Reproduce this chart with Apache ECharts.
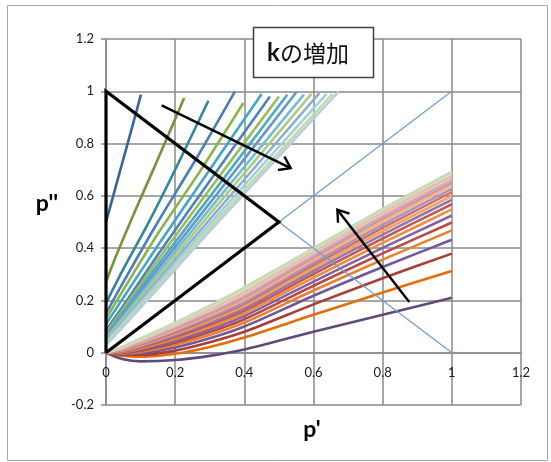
<!DOCTYPE html>
<html><head><meta charset="utf-8">
<script src="https://cdn.jsdelivr.net/npm/echarts/dist/echarts.min.js"></script>
<style>html,body{margin:0;padding:0;background:#fff}#c{width:551px;height:462px}</style>
</head><body><div id="c"></div>
<script>
// axis ticks
const xTicks = [0, 0.2, 0.4, 0.6, 0.8, 1, 1.2];
const yTicks = [-0.2, 0, 0.2, 0.4, 0.6, 0.8, 1, 1.2];

// upper family (p', p'') points
const upper1  = [[0,0.5],[0.025,0.62],[0.05,0.74],[0.075,0.86],[0.101,0.987]];
const upper2  = [[0,0.27],[0.026,0.36],[0.08,0.53],[0.14,0.71],[0.226,0.974]];
const upper3  = [[0,0.19],[0.05,0.32],[0.12,0.49],[0.2,0.70],[0.296,0.964]];
const upper4  = [[0,0.15],[0.05,0.27],[0.15,0.5],[0.26,0.74],[0.373,1.0]];
const upper5  = [[0,0.13],[0.05,0.24],[0.15,0.455],[0.27,0.69],[0.397,0.955]];
const upper6  = [[0,0.11],[0.05,0.21],[0.15,0.41],[0.3,0.70],[0.45,0.99]];
const upper7  = [[0,0.085],[0.05,0.18],[0.15,0.375],[0.3,0.657],[0.474,0.98]];
const upper8  = [[0,0.075],[0.05,0.168],[0.15,0.355],[0.3,0.625],[0.50,0.98]];
const upper9  = [[0,0.065],[0.05,0.156],[0.15,0.336],[0.3,0.596],[0.524,0.987]];
const upper10 = [[0,0.06],[0.05,0.147],[0.15,0.32],[0.3,0.572],[0.551,0.997]];
const upper11 = [[0,0.055],[0.05,0.138],[0.15,0.305],[0.3,0.55],[0.572,0.987]];
const upper12 = [[0,0.05],[0.05,0.13],[0.15,0.292],[0.3,0.53],[0.594,0.99]];
const upper13 = [[0,0.045],[0.05,0.122],[0.15,0.278],[0.3,0.51],[0.617,0.993]];
const upper14 = [[0,0.04],[0.05,0.115],[0.15,0.266],[0.3,0.493],[0.638,0.99]];
const upper15 = [[0,0.035],[0.05,0.107],[0.15,0.255],[0.3,0.478],[0.655,0.99]];
const upper16 = [[0,0.03],[0.05,0.1],[0.15,0.245],[0.3,0.465],[0.673,1.0]];
const upperCurves = [upper1,upper2,upper3,upper4,upper5,upper6,upper7,upper8,upper9,upper10,upper11,upper12,upper13,upper14,upper15,upper16];
const upperColors = ['#3A6399','#77933C','#31859C','#4A7EBB','#8DB44B','#3FA8C4','#4F81BD','#9BBB59','#4BACC6','#6A95CC','#72BFD3','#B0CB7E','#8DADD8','#9CD2E0','#C6DA9F','#B8CCE4'];

// lower family: p'' values at the shared p' positions
const lowerX = [0, 0.05, 0.1, 0.2, 0.3, 0.4, 0.6, 0.8, 1];
const lower1  = [0,-0.025,-0.033,-0.028,-0.012,0.012,0.08,0.145,0.21];
const lower2  = [0,-0.012,-0.015,-0.004,0.022,0.058,0.145,0.23,0.313];
const lower3  = [0,-0.008,-0.008,0.008,0.04,0.08,0.185,0.285,0.379];
const lower4  = [0,-0.005,-0.002,0.02,0.055,0.1,0.218,0.328,0.432];
const lower5  = [0,-0.003,0.003,0.03,0.068,0.115,0.238,0.356,0.468];
const lower6  = [0,-0.001,0.008,0.038,0.079,0.128,0.256,0.38,0.498];
const lower7  = [0,0.001,0.012,0.046,0.089,0.14,0.272,0.401,0.525];
const lower8  = [0,0.003,0.016,0.053,0.098,0.151,0.287,0.42,0.548];
const lower9  = [0,0.005,0.02,0.06,0.107,0.161,0.301,0.437,0.568];
const lower10 = [0,0.007,0.024,0.066,0.115,0.17,0.313,0.452,0.585];
const lower11 = [0,0.009,0.027,0.072,0.122,0.179,0.324,0.465,0.600];
const lower12 = [0,0.011,0.031,0.077,0.129,0.187,0.335,0.478,0.614];
const lower13 = [0,0.013,0.034,0.083,0.136,0.195,0.345,0.49,0.627];
const lower14 = [0,0.015,0.038,0.088,0.143,0.203,0.355,0.501,0.639];
const lower15 = [0,0.017,0.041,0.093,0.149,0.21,0.364,0.512,0.650];
const lower16 = [0,0.019,0.044,0.098,0.156,0.218,0.373,0.522,0.660];
const lower17 = [0,0.02,0.047,0.103,0.162,0.226,0.381,0.531,0.669];
const lower18 = [0,0.022,0.05,0.107,0.168,0.234,0.388,0.539,0.677];
const lower19 = [0,0.023,0.052,0.111,0.174,0.242,0.394,0.545,0.685];
const lower20 = [0,0.025,0.055,0.115,0.18,0.25,0.40,0.55,0.693];
const lowerCurves = [lower1,lower2,lower3,lower4,lower5,lower6,lower7,lower8,lower9,lower10,lower11,lower12,lower13,lower14,lower15,lower16,lower17,lower18,lower19,lower20];
const lowerColors = ['#604A7B','#E46C0A','#A83E3A','#70589A','#E8802F','#B94A47','#7E64A3','#F08C3F','#C25B58','#9079B0','#F5A05F','#CC7371','#A593C2','#F8B383','#D99594','#B9ABD0','#FAC4A0','#E6B9B8','#D3DFC0','#C9DAB4'];

// reference lines
const triangle = [[0,0],[0,1],[0.5,0.5],[0,0]];
const diagUp = [[0,0],[1,1]];
const diagDown = [[0,1],[1,0]];

// arrows
const arrow1Shaft = [[0.161,0.946],[0.534,0.706]];
const arrow1Head  = [[0.516,0.750],[0.534,0.706],[0.497,0.699]];
const arrow2Shaft = [[0.877,0.194],[0.669,0.547]];
const arrow2Head  = [[0.671,0.497],[0.669,0.547],[0.704,0.532]];

const series = [];
upperCurves.forEach((pts, i) => {
  series.push({type:'line', data: pts, smooth: 0.25, showSymbol:false, silent:true,
    lineStyle:{width:2.6, color: upperColors[i]}, z: 2});
});
lowerCurves.forEach((ys, i) => {
  series.push({type:'line', data: lowerX.map((x, j) => [x, ys[j]]), smooth: 0.25, showSymbol:false, silent:true,
    lineStyle:{width:2.6, color: lowerColors[i]}, z: 2});
});
[diagUp, diagDown].forEach(d => series.push({type:'line', data:d, showSymbol:false, silent:true,
  lineStyle:{width:1.2, color:'#6F9BD1'}, z:3}));
series.push({type:'line', data: triangle, showSymbol:false, silent:true,
  lineStyle:{width:3.2, color:'#000', join:'miter'}, z:4});
[arrow1Shaft, arrow1Head, arrow2Shaft, arrow2Head].forEach(d => series.push({type:'line', data:d, showSymbol:false, silent:true,
  lineStyle:{width:2.4, color:'#000', join:'miter'}, z:5}));

const chart = echarts.init(document.getElementById('c'), null, {renderer:'canvas'});
const labelFont = {fontFamily:'Lato, "Open Sans", sans-serif', fontSize:13, color:'#1a1a1a'};
chart.setOption({
  animation:false,
  grid:{left:106, right:30, top:39, bottom:57, containLabel:false, outerBoundsMode:'none'},
  xAxis:{type:'value', min:xTicks[0], max:xTicks[xTicks.length-1], interval:0.2,
    offset:-52.3,
    axisLine:{show:true, onZero:false, lineStyle:{color:'#8a8a8a', width:1.5}},
    axisTick:{show:false},
    axisLabel:Object.assign({margin:14}, labelFont),
    splitLine:{show:true, lineStyle:{color:'#8a8a8a', width:1.5}}},
  yAxis:{type:'value', min:yTicks[0], max:yTicks[yTicks.length-1], interval:0.2,
    axisLine:{show:true, onZero:false, lineStyle:{color:'#8a8a8a', width:1.5}},
    axisTick:{show:true, length:5, lineStyle:{color:'#8a8a8a', width:1.5}},
    axisLabel:Object.assign({margin:12}, labelFont),
    splitLine:{show:true, lineStyle:{color:'#8a8a8a', width:1.5}}},
  graphic:[
    {type:'rect', z:100, shape:{x:7.5, y:5.5, width:540, height:455}, style:{fill:'none', stroke:'#a6a6a6', lineWidth:1}},
    {type:'rect', z:100, shape:{x:253.5, y:27.5, width:120, height:50}, style:{fill:'#fff', stroke:'#404040', lineWidth:1.5}},
    {type:'text', z:101, x:308, y:53, style:{text:'{k|k}{j|の増加}',
      rich:{k:{fontWeight:'bold', fontSize:24, fontFamily:'Lato, sans-serif', fill:'#111'},
            j:{fontSize:23, fontFamily:'"Noto Sans CJK JP"', fill:'#111'}},
      align:'center', verticalAlign:'middle'}},
    {type:'text', z:101, x:47, y:204, style:{text:"p''", fontSize:23, fontWeight:'bold', fontFamily:'Lato, sans-serif', fill:'#000', align:'center', verticalAlign:'middle'}},
    {type:'text', z:101, x:312, y:430, style:{text:"p'", fontSize:23, fontWeight:'bold', fontFamily:'Lato, sans-serif', fill:'#000', align:'center', verticalAlign:'middle'}}
  ],
  series: series
});
</script>
</body></html>
